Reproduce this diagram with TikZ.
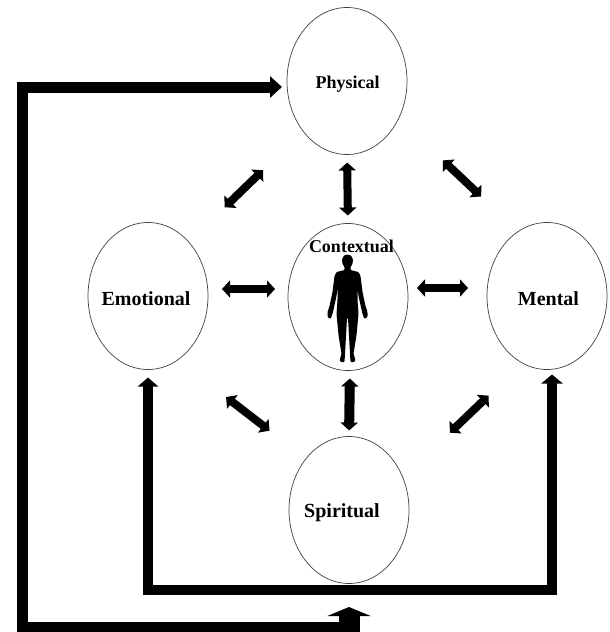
\documentclass[tikz,border=0pt]{standalone}
\usepackage{fontspec}
\setmainfont{Liberation Serif}
\usetikzlibrary{shapes.geometric,arrows.meta}
\tikzset{
    area/.style={
        ellipse,
        minimum width=120pt,
        minimum height=147pt,
        inner sep=0pt,
        outer sep=0pt,
        line width=0.7pt,
        draw=black!75
    },
    smalltext/.style={font=\fontsize{18pt}{18pt}\selectfont\bfseries},
    bigtext/.style={font=\fontsize{20pt}{20pt}\selectfont\bfseries},
    link/.style={
        line width=8pt,
        {Triangle[length=8pt,width=17pt]}-{Triangle[length=8pt,width=17pt]}
    },
    loopline/.style={line width=11pt}
}
\begin{document}
\begin{tikzpicture}[x=1pt,y=-1pt]
    \useasboundingbox (0,0) rectangle (610,632);
    % five areas
    \node[area] (physical) at (347,81) {};
    \node[area] (contextual) at (348,297) {};
    \node[area] (emotional) at (148,296) {};
    \node[area] (mental) at (547,296) {};
    \node[area] (spiritual) at (349,510) {};
    % area names
    \node[smalltext] (physicallabel) at (347.5,84) {Physical};
    \node[smalltext] (contextuallabel) at (351.5,246) {Contextual};
    \node[bigtext] (emotionallabel) at (146,299) {Emotional};
    \node[bigtext] (mentallabel) at (548.5,299) {Mental};
    \node[bigtext] (spirituallabel) at (342,513) {Spiritual};
    % draw body
    \foreach \s in {1,-1} {
        \begin{scope}[shift={(347.5,0)},xscale=\s]
            \fill[rounded corners=1pt] (-0.5,254.5) -- (3,255) -- (5.5,259) -- (5,264) -- (3,267)
                -- (3,270) -- (11,272) -- (13,276) -- (15,292) -- (18,306) -- (20,312) -- (20,317)
                -- (17,319) -- (15,314) -- (11,296) -- (10,288) -- (10,300) -- (11,314)
                -- (9,335) -- (6,354) -- (8,360) -- (7,362) -- (3,362) -- (2,345) -- (0.5,318)
                -- (-0.5,318) -- cycle;
        \end{scope}
    }
    % draw double arrows
    \draw[link,shorten <=8pt,shorten >=8pt] (physical.south) -- (contextual.north);
    \draw[link,line width=10pt,shorten <=8pt,shorten >=6pt] ([xshift=2pt]contextual.south) -- (spiritual.north);
    \draw[link,shorten <=14pt,shorten >=13pt] ([yshift=7pt]emotional.east) -- ([yshift=8pt]contextual.west);
    \draw[link,shorten <=9pt,shorten >=19pt] ([yshift=9pt]contextual.east) -- ([yshift=8pt]mental.west);
    \draw[link,shorten <=50pt,shorten >=56pt] (emotional.53) -- (physical.-131);
    \draw[link,shorten <=61pt,shorten >=51pt] (physical.-36) -- (mental.114);
    \draw[link,shorten <=61pt,shorten >=46pt] (emotional.-65) -- (spiritual.130);
    \draw[link,shorten <=47pt,shorten >=65pt] (mental.-110) -- (spiritual.31);
    % draw loops
    \coordinate (innerbar) at (349,590);
    \coordinate (outerfoot) at (359,627);
    \coordinate (outerbend) at (22,87);
    \coordinate (outerstub) at (349,632);
    \draw[line width=10pt,{Triangle[length=9pt,width=20pt]}-{Triangle[length=9pt,width=21pt]},
        shorten <=8pt,shorten >=5pt]
        (emotional.south) |- (innerbar) -| ([xshift=5pt]mental.south);
    \draw[loopline,-{Triangle[length=12pt,width=21pt]},shorten >=5pt]
        (outerfoot) -| (outerbend) -- ([yshift=-6pt]physical.west);
    \draw[line width=21pt,-{Triangle[length=9pt,width=43pt]},shorten >=17pt] (outerstub) -- (innerbar);
\end{tikzpicture}
\end{document}
